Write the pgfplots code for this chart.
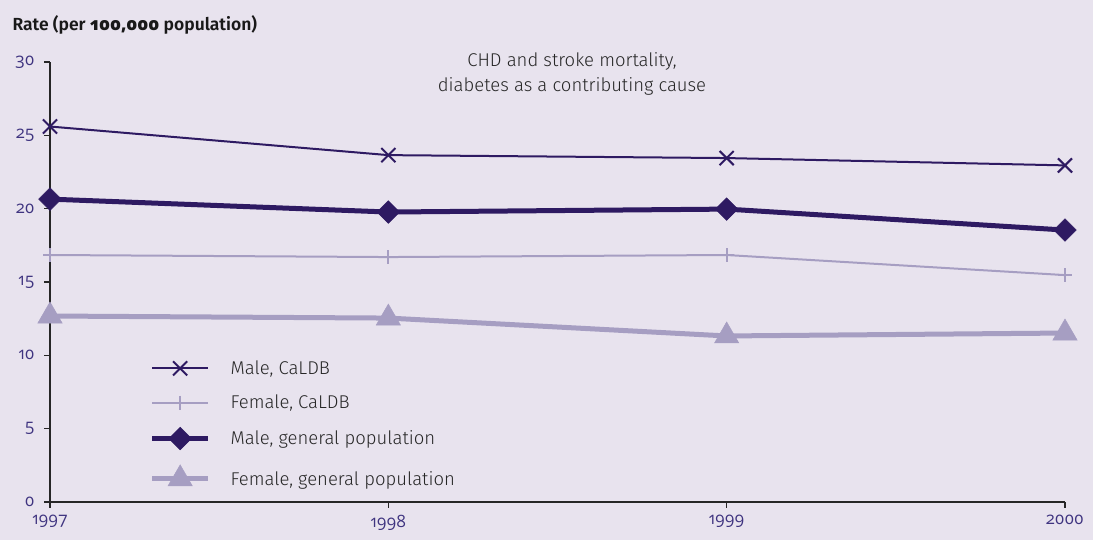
\documentclass[border=0pt]{standalone}
\usepackage{fontspec}
\setmainfont{Fira Sans}[UprightFont=* Light, BoldFont=* SemiBold]
\newfontfamily\numfont{Open Sans}[Numbers=OldStyle]
\newfontfamily\numfontb{Open Sans}[Numbers=OldStyle, UprightFont=* Bold]
\newcommand\N[1]{\mbox{\numfont #1}}
\usepackage{pgfplots}
\pgfplotsset{compat=1.18}
\definecolor{bg}{HTML}{E8E3EE}
\definecolor{dark}{HTML}{2E1A62}
\definecolor{light}{HTML}{A69EC2}
\definecolor{ticklab}{HTML}{3F3480}
\begin{document}
\begin{tikzpicture}[x=1pt,y=1pt]
\fill[bg] (0,0) rectangle (1093,540);
\useasboundingbox (0,0) rectangle (1093,540);
\node[anchor=west,font=\bfseries\fontsize{17.5}{20}\selectfont,text=black!90] at (9,515) {Rate (per {\numfontb 100,000} population)};
\begin{axis}[at={(50pt,38pt)}, anchor=south west, scale only axis,
  width=1015pt, height=440pt,
  xmin=1997, xmax=2000, ymin=0, ymax=30,
  axis x line*=bottom, axis y line*=left,
  axis line style={black!85, line width=1.2pt},
  xtick={1997,1998,1999,2000}, xticklabels={\N{1997},\N{1998},\N{1999},\N{2000}},
  ytick={0,5,10,15,20,25,30}, yticklabels={\N{0},\N{5},\N{10},\N{15},\N{20},\N{25},\N{30}},
  tick align=outside, major tick length=6pt,
  tick style={black!85, line width=1.2pt},
  tick label style={font=\fontsize{17}{20}\selectfont, text=ticklab},
  xticklabel style={yshift=-4pt},
  yticklabel style={xshift=-6pt},
  legend style={at={(0.098,0.326)}, anchor=north west, draw=none, fill=none,
     font=\fontsize{18.5}{21}\selectfont, row sep=15pt, inner sep=0pt,
     nodes={inner sep=2pt, text=black!85}},
  legend cell align=left,
  legend image code/.code={\draw[mark repeat=2,mark phase=2] plot coordinates {(0pt,0pt)(28pt,0pt)(56pt,0pt)};},
]
\addplot[dark, line width=2pt, mark=x, mark size=10pt, mark options={line width=2pt}] coordinates {(1997,25.6) (1998,23.65) (1999,23.45) (2000,22.95)};
\addlegendentry{\hspace{18pt}Male, CaLDB}
\addplot[light, line width=2pt, mark=+, mark size=7pt, mark options={line width=2pt}] coordinates {(1997,16.84) (1998,16.7) (1999,16.84) (2000,15.47)};
\addlegendentry{\hspace{18pt}Female, CaLDB}
\addplot[dark, line width=5pt, mark=square*, mark size=8pt, mark options={rotate=45, line width=0.5pt}] coordinates {(1997,20.65) (1998,19.77) (1999,19.97) (2000,18.54)};
\addlegendentry{\hspace{18pt}Male, general population}
\addplot[light, line width=5pt, mark=triangle*, mark size=14pt, mark options={line width=0.5pt}] coordinates {(1997,12.68) (1998,12.54) (1999,11.32) (2000,11.52)};
\addlegendentry{\hspace{18pt}Female, general population}
\end{axis}
\node[align=center, font=\fontsize{18.5}{25}\selectfont, text=black!85] at (572,466) {CHD and stroke mortality,\\diabetes as a contributing cause};
\end{tikzpicture}
\end{document}
